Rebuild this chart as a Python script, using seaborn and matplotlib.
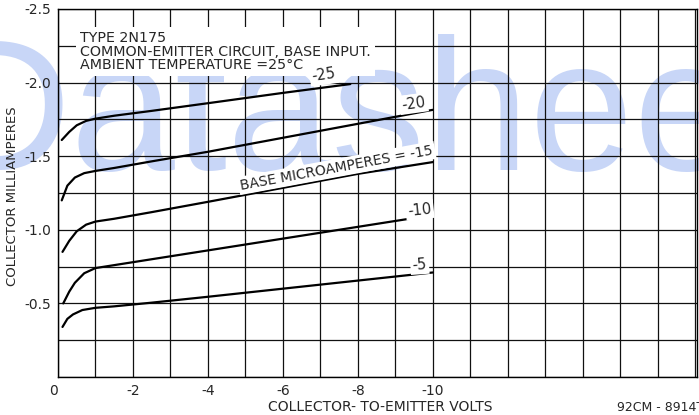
import numpy as np
import pandas as pd
import matplotlib
matplotlib.use("Agg")
import matplotlib.pyplot as plt
import seaborn as sns

# base current curves (microamperes)
# volts / milliamperes are magnitudes; the graph uses negative values
base_names = ["-5", "-10", "-15", "-20", "-25"]

v_5 = [0.12, 0.25, 0.4, 0.65, 1.0, 1.5, 2.5, 4, 6, 8, 10]
i_5 = [0.34, 0.395, 0.425, 0.455, 0.47, 0.48, 0.505, 0.545, 0.60, 0.655, 0.71]

v_10 = [0.14, 0.3, 0.45, 0.7, 1.0, 1.5, 2.5, 4, 6, 8, 10]
i_10 = [0.50, 0.58, 0.64, 0.705, 0.74, 0.76, 0.80, 0.86, 0.94, 1.02, 1.10]

v_15 = [0.12, 0.3, 0.5, 0.75, 1.0, 1.5, 2.5, 4, 6, 8, 10]
i_15 = [0.85, 0.925, 0.99, 1.035, 1.056, 1.075, 1.12, 1.19, 1.285, 1.38, 1.46]

v_20 = [0.1, 0.25, 0.45, 0.7, 1.0, 1.5, 2.5, 4, 6, 8, 10]
i_20 = [1.20, 1.30, 1.355, 1.385, 1.40, 1.42, 1.465, 1.53, 1.625, 1.72, 1.815]

v_25 = [0.1, 0.3, 0.5, 0.75, 1.0, 1.5, 2.5, 4, 6, 7.8]
i_25 = [1.61, 1.665, 1.71, 1.74, 1.755, 1.775, 1.808, 1.86, 1.93, 1.99]

x_ticks = list(range(0, -18, -1))
x_labels = ["0", "-2", "-4", "-6", "-8", "-10"]
y_ticks = [0, -0.25, -0.5, -0.75, -1.0, -1.25, -1.5, -1.75, -2.0, -2.25, -2.5]
y_labels = ["-0.5", "-1.0", "-1.5", "-2.0", "-2.5"]

header = "TYPE 2N175\nCOMMON-EMITTER CIRCUIT, BASE INPUT.\nAMBIENT TEMPERATURE =25\u00b0C"


def main():
    sns.set_style("white")
    plt.rcParams["font.family"] = ["DejaVu Sans"]
    plt.rcParams["axes.unicode_minus"] = False

    frames = []
    for name, v, i in zip(base_names, [v_5, v_10, v_15, v_20, v_25],
                          [i_5, i_10, i_15, i_20, i_25]):
        frames.append(pd.DataFrame({"volts": -np.array(v), "ma": -np.array(i), "base": name}))
    df = pd.concat(frames, ignore_index=True)

    fig = plt.figure(figsize=(6.99, 4.15), dpi=100)
    fig.patch.set_facecolor("white")
    ax = fig.add_axes([58 / 699, 38 / 415, 639 / 699, 368 / 415])
    ax.set_facecolor("none")

    # watermark behind the graph
    fig.text(-64 / 699, (415 - 170) / 415, "Datasheet", fontsize=135,
             family=["Liberation Sans", "DejaVu Sans"], color="#c8d6f7",
             ha="left", va="baseline", zorder=-1)

    sns.lineplot(data=df, x="volts", y="ma", hue="base",
                 palette={n: "black" for n in base_names},
                 estimator=None, sort=False, legend=False,
                 linewidth=1.6, ax=ax)
    for line in ax.get_lines():
        line.set_solid_capstyle("round")
        line.set_zorder(3)

    ax.set_xlim(0, -17.05)
    ax.set_ylim(0, -2.5)

    ax.set_xticks(x_ticks)
    ax.set_xticklabels([x_labels[k // 2] if (k % 2 == 0 and k <= 10) else "" for k in range(len(x_ticks))])
    ax.set_yticks(y_ticks)
    ax.set_yticklabels(["" if k % 2 else y_labels[k // 2 - 1] if k else "" for k in range(len(y_ticks))])
    ax.get_xticklabels()[0].set_ha("right")

    ax.grid(True, color="#111111", linewidth=0.9)
    ax.set_axisbelow(True)
    ax.tick_params(axis="both", direction="out", length=3.5, width=0.9,
                   color="black", labelsize=10, pad=1.5)
    for s in ax.spines.values():
        s.set_color("black")
        s.set_linewidth(1.0)

    ax.set_xlabel("COLLECTOR- TO-EMITTER VOLTS", fontsize=10)
    ax.xaxis.label.set_va("center")
    ax.xaxis.set_label_coords((380 - 58) / 639, (377 - 407) / 368)
    ax.set_ylabel("COLLECTOR MILLIAMPERES", fontsize=9.5)
    ax.yaxis.label.set_va("center")
    ax.yaxis.set_label_coords((13 - 58) / 639, (377 - 196) / 368)

    white = dict(facecolor="white", edgecolor="none", pad=1.5)
    ax.text(-0.58, -2.35, header, fontsize=10.3, ha="left", va="top",
            linespacing=0.95, bbox=dict(facecolor="white", edgecolor="none", pad=3), zorder=4)

    ax.text(-7.09, -2.05, "-25", fontsize=10.5, ha="center", va="center",
            rotation=8, bbox=white, zorder=4)
    ax.text(-9.49, -1.857, "-20", fontsize=10.5, ha="center", va="center",
            rotation=8, bbox=white, zorder=4)
    ax.text(-7.44, -1.42, "BASE MICROAMPERES = -15", fontsize=10, ha="center",
            va="center", rotation=10.5, rotation_mode="anchor", bbox=white, zorder=4)
    ax.text(-9.65, -1.136, "-10", fontsize=10.5, ha="center", va="center",
            rotation=6, bbox=white, zorder=4)
    ax.text(-9.65, -0.762, "-5", fontsize=10.5, ha="center", va="center",
            rotation=4, bbox=white, zorder=4)

    fig.text(617 / 699, (415 - 407) / 415, "92CM - 8914T1", fontsize=9,
             ha="left", va="center")

    fig.savefig("out.png", dpi=100)


if __name__ == "__main__":
    main()
